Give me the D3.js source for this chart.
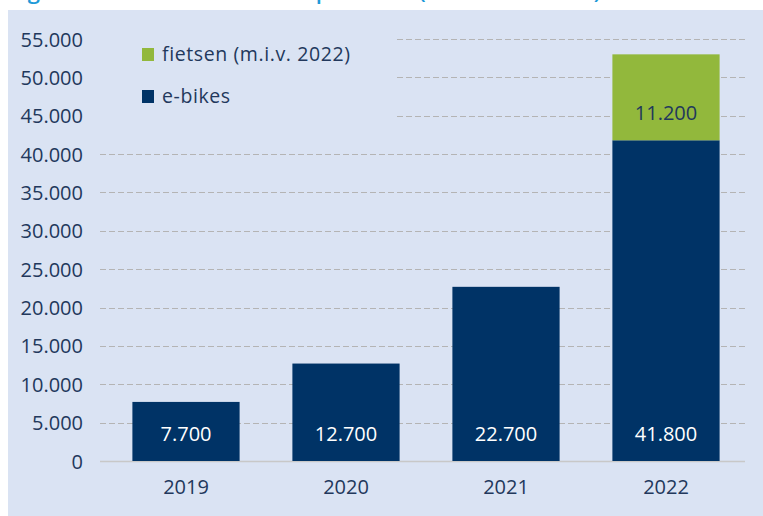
<!DOCTYPE html>
<html><head><meta charset="utf-8">
<script src="https://cdn.jsdelivr.net/npm/d3@7"></script>
<style>html,body{margin:0;padding:0;background:#fff;}svg{display:block;}</style>
</head><body>
<svg id="chart" width="763" height="516"></svg>
<script>
const years = ["2019", "2020", "2021", "2022"];
const ebikes = [7700, 12700, 22700, 41800];
const fietsen = [0, 0, 0, 11200];
const yTicks = [0, 5000, 10000, 15000, 20000, 25000, 30000, 35000, 40000, 45000, 50000, 55000];
const seriesNames = ["fietsen (m.i.v. 2022)", "e-bikes"];
const titleText = "Figuur 1: Aantal leasefietsen per soort (stand eind 2022)";

const colNavy = "#003366", colGreen = "#92b83c", bg = "#dae3f3", txt = "#22385c";
const font = "'Open Sans', sans-serif";
const svg = d3.select("#chart");
const loc = d3.formatLocale({decimal: ",", thousands: ".", grouping: [3], currency: ["", ""]});
const fmt = loc.format(",");

// title (cut off at top, as in the reference)
svg.append("text").attr("x", 10).attr("y", -1).attr("fill", "#1f9ad8")
  .attr("font-family", font).attr("font-size", 22).attr("font-weight", 600).text(titleText);

// panel
svg.append("rect").attr("x", 8).attr("y", 10).attr("width", 755).attr("height", 506).attr("fill", bg);

const x = d3.scaleBand().domain(years).range([106, 746]).paddingInner(0.33).paddingOuter(0.165);
const y = d3.scaleLinear().domain([0, 55000]).range([461, 39]);

// gridlines
const grid = svg.append("g");
grid.selectAll("line").data(yTicks.filter(d => d > 0)).join("line")
  .attr("x1", 100).attr("x2", 745).attr("y1", d => Math.round(y(d)) + 0.5).attr("y2", d => Math.round(y(d)) + 0.5)
  .attr("stroke", "#b4b4b4").attr("stroke-width", 1).attr("stroke-dasharray", "6,3");
svg.append("line").attr("x1", 100).attr("x2", 745).attr("y1", y(0) + 0.5).attr("y2", y(0) + 0.5)
  .attr("stroke", "#c8c8c8").attr("stroke-width", 1.5);

// y axis labels
const yAxis = d3.axisLeft(y).tickValues(yTicks).tickFormat(fmt).tickSize(0).tickPadding(0);
const ya = svg.append("g").attr("transform", "translate(83,0)").call(yAxis);
ya.select(".domain").remove();
ya.selectAll("text").attr("font-family", font).attr("font-size", 20).attr("fill", txt).attr("dy", "0.35em");

// x axis labels
const xAxis = d3.axisBottom(x).tickSize(0).tickPadding(0);
const xa = svg.append("g").attr("transform", "translate(0,480)").call(xAxis);
xa.select(".domain").remove();
xa.selectAll("text").attr("font-family", font).attr("font-size", 20).attr("fill", txt).attr("dy", "0.71em");

// bars
const data = years.map((yr, i) => ({yr, e: ebikes[i], f: fietsen[i]}));
svg.append("g").selectAll("rect").data(data).join("rect")
  .attr("x", d => x(d.yr)).attr("width", x.bandwidth())
  .attr("y", d => y(d.e)).attr("height", d => y(0) - y(d.e)).attr("fill", colNavy);
svg.append("g").selectAll("rect").data(data.filter(d => d.f > 0)).join("rect")
  .attr("x", d => x(d.yr)).attr("width", x.bandwidth())
  .attr("y", d => y(d.e + d.f)).attr("height", d => y(d.e) - y(d.e + d.f)).attr("fill", colGreen);

// labels (inside base)
svg.append("g").selectAll("text").data(data).join("text")
  .attr("x", d => x(d.yr) + x.bandwidth() / 2).attr("y", d => y(0) - 27).attr("dy", "0.35em")
  .attr("text-anchor", "middle").attr("font-family", font).attr("font-size", 20).attr("fill", "#fff")
  .text(d => fmt(d.e));
svg.append("g").selectAll("text").data(data.filter(d => d.f > 0)).join("text")
  .attr("x", d => x(d.yr) + x.bandwidth() / 2).attr("y", d => y(d.e) - 27).attr("dy", "0.35em")
  .attr("text-anchor", "middle").attr("font-family", font).attr("font-size", 20).attr("fill", txt)
  .text(d => fmt(d.f));

// legend
svg.append("rect").attr("x", 100).attr("y", 28).attr("width", 294).attr("height", 98).attr("fill", bg);
const legCols = [colGreen, colNavy];
const lg = svg.append("g").selectAll("g").data(seriesNames).join("g")
  .attr("transform", (d, i) => `translate(142,${54 + i * 42})`);
lg.append("rect").attr("x", 0).attr("y", -6).attr("width", 12).attr("height", 13).attr("fill", (d, i) => legCols[i]);
lg.append("text").attr("x", 20).attr("y", 0).attr("dy", "0.35em").attr("font-family", font)
  .attr("font-size", 19.5).attr("letter-spacing", 0.6).attr("fill", txt).text(d => d);
</script>
</body></html>
